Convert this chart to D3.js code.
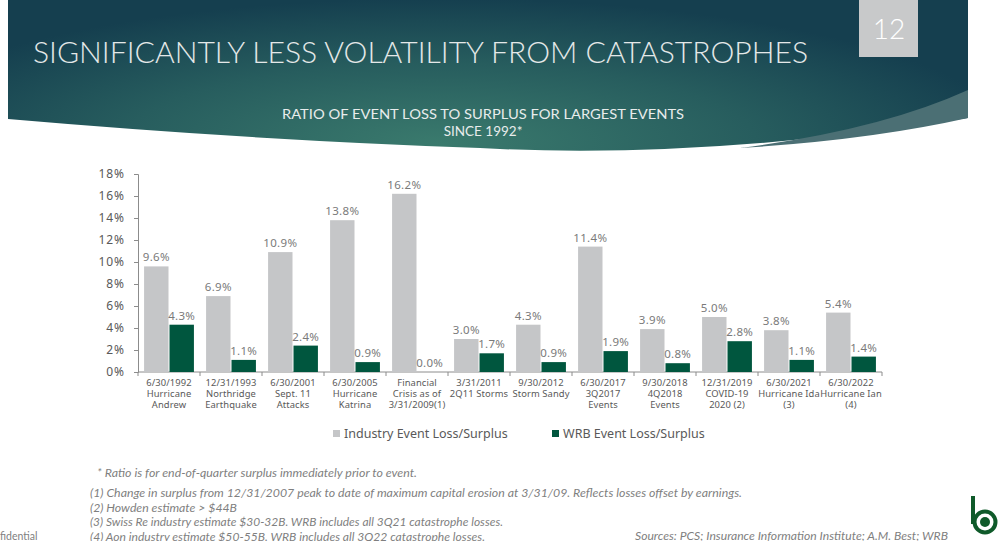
<!DOCTYPE html>
<html>
<head>
<meta charset="utf-8">
<script src="https://cdn.jsdelivr.net/npm/d3@7"></script>
<style>
  body { margin: 0; background: #fff; }
  svg { display: block; }
</style>
</head>
<body>
<script>
// chart values
const categories = [
  ['6/30/1992', 'Hurricane', 'Andrew'],
  ['12/31/1993', 'Northridge', 'Earthquake'],
  ['6/30/2001', 'Sept. 11', 'Attacks'],
  ['6/30/2005', 'Hurricane', 'Katrina'],
  ['Financial', 'Crisis as of', '3/31/2009(1)'],
  ['3/31/2011', '2Q11 Storms'],
  ['9/30/2012', 'Storm Sandy'],
  ['6/30/2017', '3Q2017', 'Events'],
  ['9/30/2018', '4Q2018', 'Events'],
  ['12/31/2019', 'COVID-19', '2020 (2)'],
  ['6/30/2021', 'Hurricane Ida', '(3)'],
  ['6/30/2022', 'Hurricane Ian', '(4)']
];
const industry = [9.6, 6.9, 10.9, 13.8, 16.2, 3.0, 4.3, 11.4, 3.9, 5.0, 3.8, 5.4];
const wrb = [4.3, 1.1, 2.4, 0.9, 0.0, 1.7, 0.9, 1.9, 0.8, 2.8, 1.1, 1.4];
const series = ['Industry Event Loss/Surplus', 'WRB Event Loss/Surplus'];
const yTicks = [0, 2, 4, 6, 8, 10, 12, 14, 16, 18];
const footnotes = [
  '(1) Change in surplus from 12/31/2007 peak to date of maximum capital erosion at 3/31/09. Reflects losses offset by earnings.',
  '(2) Howden estimate > $44B',
  '(3) Swiss Re industry estimate $30-32B. WRB includes all 3Q21 catastrophe losses.',
  '(4) Aon industry estimate $50-55B. WRB includes all 3Q22 catastrophe losses.'
];
const footnoteWidths = [652, 147, 413, 395];

const W = 1000, H = 541;
const colors = ['#c5c6c8', '#00563e'];
const labelFont = "'Noto Sans', sans-serif";
const deco = "'Lato', 'DejaVu Sans', sans-serif";

const svg = d3.select('body').append('svg')
  .attr('width', W)
  .attr('height', H);

// Header panel
const defs = svg.append('defs');
const grad = defs.append('radialGradient')
  .attr('id', 'hdr')
  .attr('cx', 0.45).attr('cy', 0.95).attr('r', 0.6)
  .attr('gradientTransform', 'translate(0.45,0.95) scale(1,1.6) translate(-0.45,-0.95)');
grad.append('stop').attr('offset', 0).attr('stop-color', '#3a7a6d');
grad.append('stop').attr('offset', 0.55).attr('stop-color', '#275d5e');
grad.append('stop').attr('offset', 1).attr('stop-color', '#153f4f');

svg.append('path')
  .attr('d', 'M8,0 L968,0 L968,118 Q700,160 480,148 Q250,140 8,119 Z')
  .attr('fill', 'url(#hdr)');
svg.append('path')
  .attr('d', 'M968,90 Q880,130 740,148 Q870,140 968,118 Z')
  .attr('fill', '#4b6f74');

svg.append('rect')
  .attr('x', 859).attr('y', 0)
  .attr('width', 59).attr('height', 57)
  .attr('fill', '#c8c9ca');
svg.append('text')
  .attr('x', 889).attr('y', 39)
  .attr('text-anchor', 'middle')
  .attr('font-family', deco).attr('font-weight', 300)
  .attr('font-size', 28).attr('fill', '#fff')
  .text('12');

svg.append('text')
  .attr('x', 33).attr('y', 63)
  .attr('font-family', deco).attr('font-weight', 300)
  .attr('font-size', 29).attr('fill', '#e4e8e8')
  .attr('textLength', 775).attr('lengthAdjust', 'spacingAndGlyphs')
  .text('SIGNIFICANTLY LESS VOLATILITY FROM CATASTROPHES');

svg.append('text')
  .attr('x', 483).attr('y', 119)
  .attr('text-anchor', 'middle')
  .attr('font-family', deco).attr('font-size', 13.5).attr('fill', '#e8ecec')
  .attr('textLength', 402).attr('lengthAdjust', 'spacingAndGlyphs')
  .text('RATIO OF EVENT LOSS TO SURPLUS FOR LARGEST EVENTS');
svg.append('text')
  .attr('x', 483).attr('y', 136)
  .attr('text-anchor', 'middle')
  .attr('font-family', deco).attr('font-size', 13.5).attr('fill', '#e8ecec')
  .text('SINCE 1992*');

// Scales
const x0 = d3.scaleBand()
  .domain(d3.range(categories.length))
  .range([138, 882])
  .paddingInner(0.18)
  .paddingOuter(0.09);

const x1 = d3.scaleBand()
  .domain([0, 1])
  .range([0, x0.bandwidth()]);

const y = d3.scaleLinear()
  .domain([0, 18])
  .range([372, 174]);

// Y axis
const yAxis = svg.append('g')
  .attr('transform', 'translate(138,0)')
  .call(d3.axisLeft(y).tickValues(yTicks).tickSize(4).tickFormat(d => d + '%'));
yAxis.selectAll('line, path').attr('stroke', '#8c8c8c');
yAxis.selectAll('text')
  .attr('font-family', labelFont).attr('font-size', 12)
  .attr('letter-spacing', 0.9)
  .attr('fill', '#595959').attr('x', -13);

// X axis line + ticks between categories
const step = x0.step();
const xAxis = svg.append('g');
xAxis.append('line')
  .attr('x1', 138).attr('x2', 882)
  .attr('y1', y(0)).attr('y2', y(0))
  .attr('stroke', '#8c8c8c');
xAxis.selectAll('.tk').data(d3.range(categories.length + 1))
  .enter().append('line')
  .attr('class', 'tk')
  .attr('x1', i => 138 + i * step).attr('x2', i => 138 + i * step)
  .attr('y1', y(0)).attr('y2', y(0) + 4)
  .attr('stroke', '#8c8c8c');

const catLabels = xAxis.selectAll('.cat').data(categories)
  .enter().append('text')
  .attr('class', 'cat')
  .attr('text-anchor', 'middle')
  .attr('font-family', labelFont).attr('font-size', 9.4)
  .attr('letter-spacing', 0.1)
  .attr('fill', '#595959');
catLabels.each(function(lines, i) {
  d3.select(this).selectAll('tspan').data(lines)
    .enter().append('tspan')
    .attr('x', x0(i) + x0.bandwidth() / 2)
    .attr('y', (d, j) => 386 + j * 11)
    .text(d => d);
});

// Bars
const rows = categories.map((c, i) => [industry[i], wrb[i]]);
const groups = svg.selectAll('.grp').data(rows)
  .enter().append('g')
  .attr('class', 'grp')
  .attr('transform', (d, i) => `translate(${x0(i)},0)`);

groups.selectAll('rect').data(d => d)
  .enter().append('rect')
  .attr('x', (d, j) => x1(j) + 0.5)
  .attr('y', d => y(d))
  .attr('width', x1.bandwidth() - 1)
  .attr('height', d => y(0) - y(d))
  .attr('fill', (d, j) => colors[j]);

groups.selectAll('.val').data(d => d)
  .enter().append('text')
  .attr('class', 'val')
  .attr('x', (d, j) => x1(j) + x1.bandwidth() / 2)
  .attr('y', d => y(d) - 5)
  .attr('text-anchor', 'middle')
  .attr('font-family', labelFont).attr('font-size', 11.5)
  .attr('letter-spacing', 0.3)
  .attr('fill', '#7a7a7a')
  .text(d => d.toFixed(1) + '%');

// Legend
const legendX = [333, 552];
const legend = svg.selectAll('.lg').data(series)
  .enter().append('g')
  .attr('class', 'lg')
  .attr('transform', (d, i) => `translate(${legendX[i]},434)`);
legend.append('rect')
  .attr('x', 0).attr('y', -4)
  .attr('width', 7).attr('height', 7)
  .attr('fill', (d, i) => colors[i]);
legend.append('text')
  .attr('x', 11).attr('y', 4)
  .attr('font-family', labelFont).attr('font-size', 12.5)
  .attr('fill', '#595959')
  .text(d => d);

// Footnotes
const noteFont = "'Lato', 'DejaVu Sans', sans-serif";
svg.append('text')
  .attr('x', 97).attr('y', 477)
  .attr('font-family', noteFont).attr('font-style', 'italic')
  .attr('font-size', 10.5).attr('fill', '#7f7f7f')
  .attr('textLength', 320).attr('lengthAdjust', 'spacingAndGlyphs')
  .text('* Ratio is for end-of-quarter surplus immediately prior to event.');

svg.selectAll('.fn').data(footnotes)
  .enter().append('text')
  .attr('class', 'fn')
  .attr('x', 90)
  .attr('y', (d, i) => 497 + i * 14.5)
  .attr('font-family', noteFont).attr('font-style', 'italic')
  .attr('font-size', 10.5).attr('fill', '#7f7f7f')
  .attr('textLength', (d, i) => footnoteWidths[i]).attr('lengthAdjust', 'spacingAndGlyphs')
  .text(d => d);

svg.append('text')
  .attr('x', 0).attr('y', 540)
  .attr('font-family', noteFont).attr('font-size', 10.5).attr('fill', '#7f7f7f')
  .text('fidential');

svg.append('text')
  .attr('x', 948).attr('y', 540)
  .attr('text-anchor', 'end')
  .attr('font-family', noteFont).attr('font-style', 'italic')
  .attr('font-size', 10.5).attr('fill', '#7f7f7f')
  .attr('textLength', 313).attr('lengthAdjust', 'spacingAndGlyphs')
  .text('Sources: PCS; Insurance Information Institute; A.M. Best; WRB');

// Logo
const logo = svg.append('g').attr('transform', 'translate(985,522)');
logo.append('rect').attr('x', -14).attr('y', -26).attr('width', 4).attr('height', 28).attr('fill', '#0f5a2a');
logo.append('circle').attr('r', 10.5).attr('fill', 'none').attr('stroke', '#0f5a2a').attr('stroke-width', 4);
logo.append('circle').attr('r', 5).attr('fill', '#0f5a2a');
</script>
</body>
</html>
